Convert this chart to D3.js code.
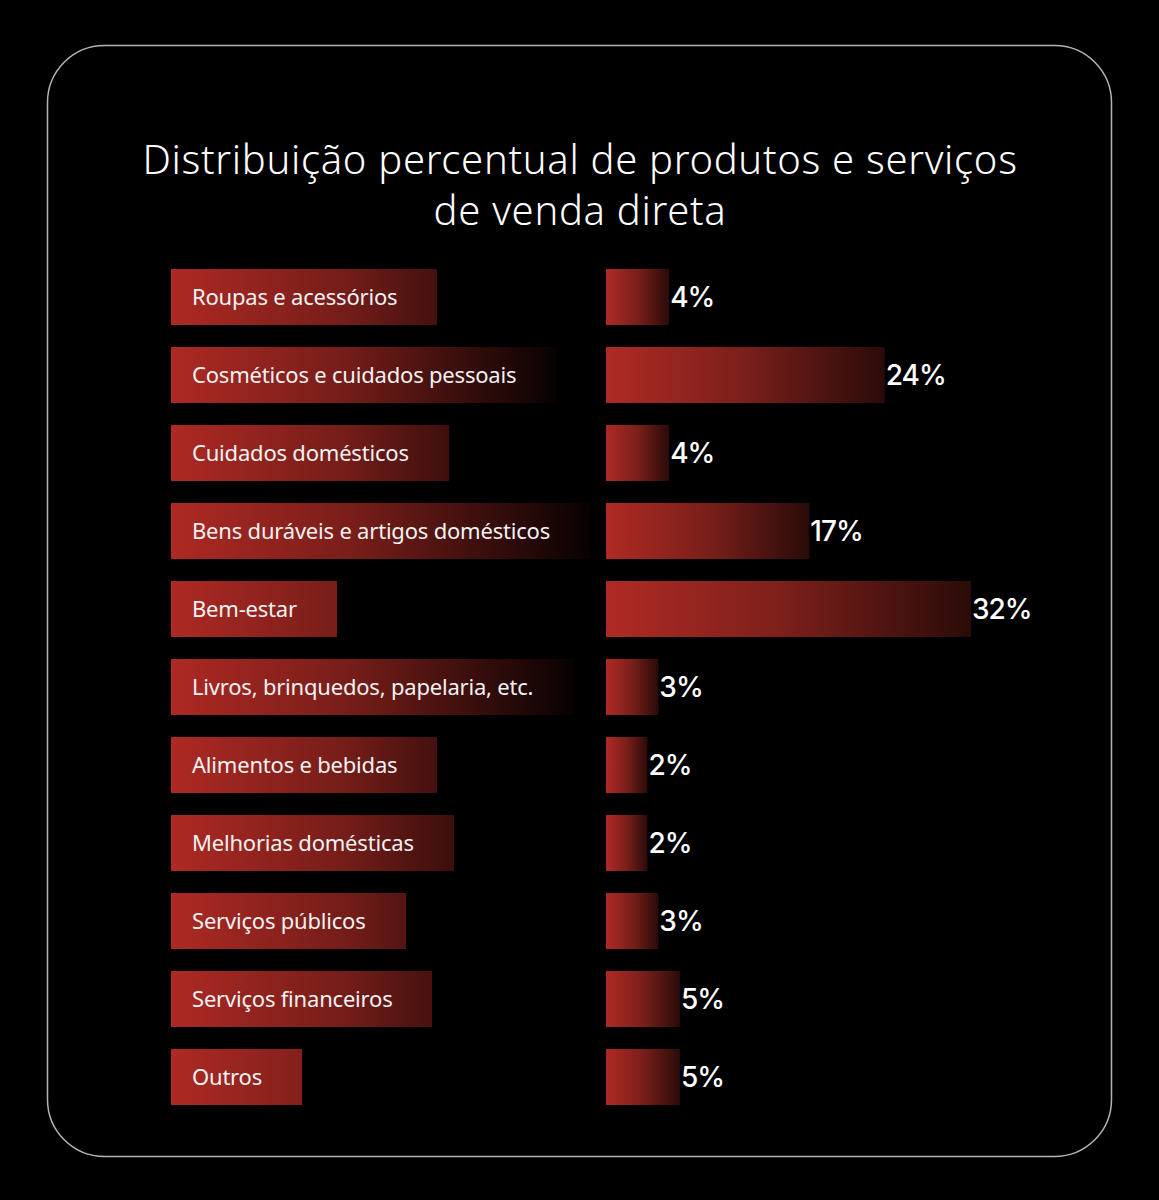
<!DOCTYPE html>
<html>
<head>
<meta charset="utf-8">
<script src="https://cdn.jsdelivr.net/npm/d3@7"></script>
<style>
  html, body { margin: 0; padding: 0; background: #000; }
  svg { display: block; }
</style>
</head>
<body>
<div id="chart"></div>
<script>
// chart data
const titleLines = ["Distribuição percentual de produtos e serviços", "de venda direta"];
const categories = [
    "Roupas e acessórios",
    "Cosméticos e cuidados pessoais",
    "Cuidados domésticos",
    "Bens duráveis e artigos domésticos",
    "Bem-estar",
    "Livros, brinquedos, papelaria, etc.",
    "Alimentos e bebidas",
    "Melhorias domésticas",
    "Serviços públicos",
    "Serviços financeiros",
    "Outros"
];
const shares = [4, 24, 4, 17, 32, 3, 2, 2, 3, 5, 5];

function drawChart() {
    const data = categories.map((c, i) => ({ name: c, value: shares[i], i }));

    //DIMENSIONS
    let dimensions = {
        width: 1159,
        height: 1200,
        frame: { x: 47.5, y: 45.5, w: 1064, h: 1111, r: 57 },
        labelX: 171,
        barX: 606,
        rowsTop: 269,
        step: 78,
        band: 56,
    }
    const pad = 1 - dimensions.band / dimensions.step;

    //SCALES
    const yScale = d3.scaleBand()
        .domain(data.map(d => d.name))
        .range([dimensions.rowsTop, dimensions.rowsTop + dimensions.step * (data.length - pad)])
        .paddingInner(pad)
        .paddingOuter(0);

    const xScale = d3.scaleLinear()
        .domain([0, d3.max(shares)])
        .range([20, 365]);

    const wrapper = d3.select("#chart").append("svg")
        .attr("width", dimensions.width)
        .attr("height", dimensions.height)
        .style("background", "#000");

    const defs = wrapper.append("defs");

    //FRAME
    wrapper.append("rect")
        .attr("x", dimensions.frame.x)
        .attr("y", dimensions.frame.y)
        .attr("width", dimensions.frame.w)
        .attr("height", dimensions.frame.h)
        .attr("rx", dimensions.frame.r)
        .attr("fill", "none")
        .attr("stroke", "#b4b4b4")
        .attr("stroke-width", 1.5);

    //TITLE
    wrapper.append("g")
        .selectAll("text")
        .data(titleLines)
        .enter()
        .append("text")
        .attr("x", 580)
        .attr("y", (d, i) => 174 + i * 51)
        .attr("text-anchor", "middle")
        .attr("fill", "#fff")
        .attr("font-family", "'Noto Sans', Lato, sans-serif")
        .attr("font-weight", 300)
        .attr("font-size", "40px")
        .attr("letter-spacing", "0.7px")
        .text(d => d);

    //LEFT LABEL BOXES
    const labels = wrapper.append("g").attr("class", "labels");

    const labelRows = labels.selectAll("g")
        .data(data)
        .enter()
        .append("g");

    labelRows.append("text")
        .attr("x", dimensions.labelX + 21)
        .attr("y", d => yScale(d.name) + yScale.bandwidth() / 2)
        .attr("dy", "0.35em")
        .attr("fill", "#f2f2f2")
        .attr("font-family", "'Noto Sans', Lato, sans-serif")
        .attr("font-size", "22px")
        .attr("letter-spacing", "-0.2px")
        .text(d => d.name);

    labelRows.each(function (d) {
        const textW = d3.select(this).select("text").node().getComputedTextLength();
        const w = Math.round(textW + 21 + 40);
        const span = Math.max(w, 380);
        const grad = defs.append("linearGradient")
            .attr("id", "lab" + d.i)
            .attr("gradientUnits", "userSpaceOnUse")
            .attr("x1", dimensions.labelX).attr("x2", dimensions.labelX + span)
            .attr("y1", 0).attr("y2", 0);
        grad.append("stop").attr("offset", "0%").attr("stop-color", "#ae2923");
        grad.append("stop").attr("offset", "45%").attr("stop-color", "#761d19");
        grad.append("stop").attr("offset", "100%").attr("stop-color", "#080202");
        d3.select(this).insert("rect", "text")
            .attr("x", dimensions.labelX)
            .attr("y", yScale(d.name))
            .attr("width", w)
            .attr("height", yScale.bandwidth())
            .attr("fill", `url(#lab${d.i})`);
    });

    //BARS
    const barGrad = defs.append("linearGradient")
        .attr("id", "barGrad")
        .attr("x1", "0%").attr("x2", "100%")
        .attr("y1", "0%").attr("y2", "0%");
    barGrad.append("stop").attr("offset", "0%").attr("stop-color", "#b02a24");
    barGrad.append("stop").attr("offset", "50%").attr("stop-color", "#7a1f1a");
    barGrad.append("stop").attr("offset", "100%").attr("stop-color", "#2a0b09");

    const bars = wrapper.append("g").attr("class", "bars");

    bars.selectAll("rect")
        .data(data)
        .enter()
        .append("rect")
        .attr("x", dimensions.barX)
        .attr("y", d => yScale(d.name))
        .attr("width", d => xScale(d.value))
        .attr("height", yScale.bandwidth())
        .attr("fill", "url(#barGrad)");

    bars.selectAll("text")
        .data(data)
        .enter()
        .append("text")
        .attr("x", d => dimensions.barX + xScale(d.value) + 1)
        .attr("y", d => yScale(d.name) + yScale.bandwidth() / 2)
        .attr("dy", "0.36em")
        .attr("fill", "#fff")
        .attr("font-family", "Inter, 'Open Sans', sans-serif")
        .attr("font-weight", 500)
        .attr("font-size", "28px")
        .attr("letter-spacing", "-1px")
        .text(d => d.value + "%");
}

drawChart();
</script>
</body>
</html>
